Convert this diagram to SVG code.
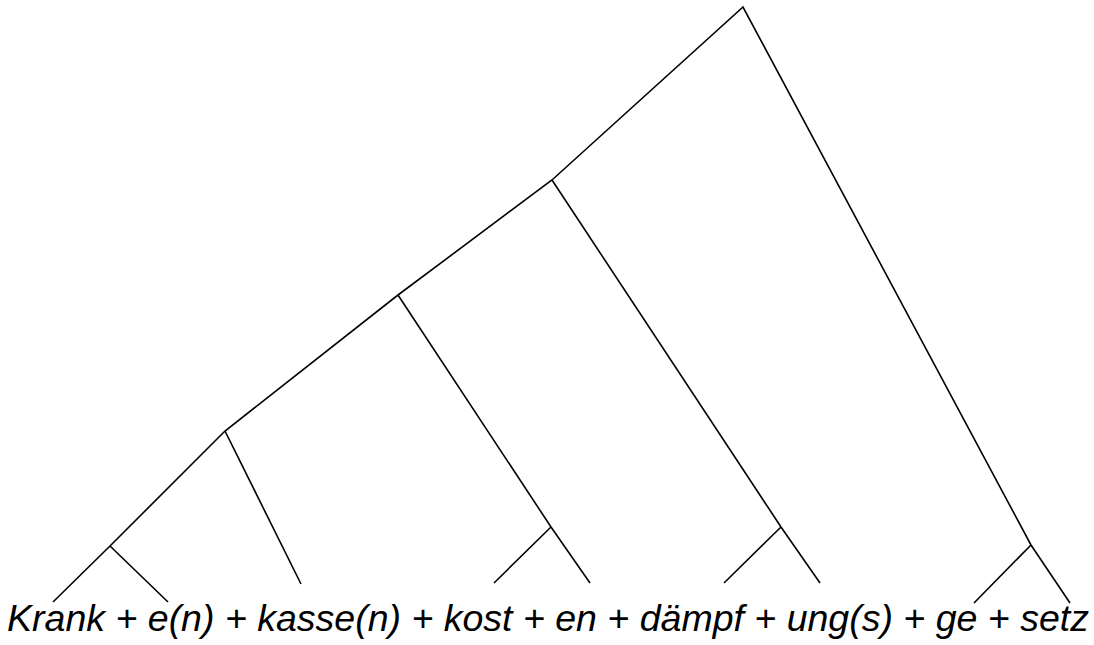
<svg xmlns="http://www.w3.org/2000/svg" width="1094" height="645" viewBox="0 0 1094 645">
<style>
.e{stroke:#000;stroke-width:1.6;fill:none;stroke-linecap:butt;stroke-linejoin:miter}
.t{font-family:"Liberation Sans",Arial,sans-serif;font-style:italic;font-size:37.5px;fill:#000}
</style>
<rect width="1094" height="645" fill="#fff"/>
<g id="connectors">
<polyline class="e" points="53,602 110,546 225,431 398,295 552,180 743,7 1031,545 1070,603"/>
<line class="e" x1="110" y1="546" x2="168" y2="602"/>
<line class="e" x1="225" y1="431" x2="301" y2="584"/>
<polyline class="e" points="398,295 551,527 590,583"/>
<line class="e" x1="551" y1="527" x2="494" y2="583"/>
<polyline class="e" points="552,180 781,527 820,583"/>
<line class="e" x1="781" y1="527" x2="724" y2="583"/>
<line class="e" x1="1031" y1="545" x2="974" y2="603"/>
</g>
<g id="label">
<text class="t" x="548" y="631" text-anchor="middle">Krank + e(n) + kasse(n) + kost + en + dämpf + ung(s) + ge + setz</text>
</g>
</svg>
